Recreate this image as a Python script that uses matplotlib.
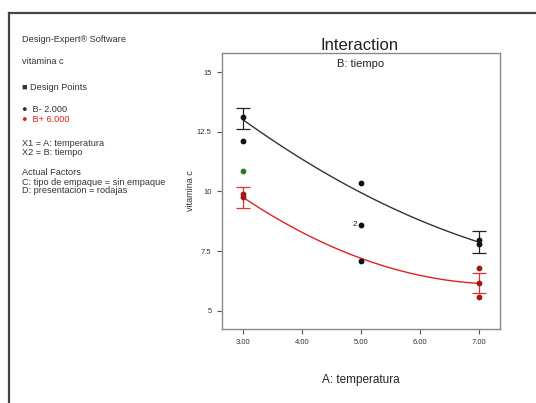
import numpy as np
import matplotlib.pyplot as plt

plt.rcParams['font.family'] = ['Liberation Sans', 'DejaVu Sans']

# model predictions (B- / B+) at the temperature levels
temp_levels = [3.0, 5.0, 7.0]
pred_low = [13.0, 9.95, 7.88]
pred_high = [9.75, 7.2, 6.15]
# least-significant-difference bars at the ends
lsd_low = [(3.0, 12.63, 13.5), (7.0, 7.42, 8.33)]
lsd_high = [(3.0, 9.29, 10.17), (7.0, 5.75, 6.6)]

# design points
pts_black_x = [3.0, 3.0, 5.0, 5.0, 7.0, 7.0, 5.0]
pts_black_y = [13.1, 12.1, 10.35, 8.6, 7.8, 7.95, 7.08]
pts_green_x = [3.0]
pts_green_y = [10.85]
pts_red_x = [3.0, 3.0, 7.0, 7.0, 7.0]
pts_red_y = [9.75, 9.9, 6.8, 6.16, 5.6]

xticks = [3, 4, 5, 6, 7]
xticklabels = ['3.00', '4.00', '5.00', '6.00', '7.00']
yticks = [5, 7.5, 10, 12.5, 15]
yticklabels = ['5', '7.5', '10', '12.5', '15']

fig = plt.figure(figsize=(5.36, 4.03), dpi=100)

# outer frame lines (top and left only)
fig.add_artist(plt.Line2D([9/536, 1], [1-13/403, 1-13/403], color='#444444', lw=1.6))
fig.add_artist(plt.Line2D([9/536, 9/536], [0, 1-13/403], color='#444444', lw=1.6))

ax = fig.add_axes([222/536, 1-329/403, 278/536, 276/403])
ax.set_xlim(2.64, 7.36)
ax.set_ylim(4.24, 15.8)
for s in ax.spines.values():
    s.set_color('#888888')
    s.set_linewidth(1.0)
ax.set_xticks(xticks)
ax.set_xticklabels(xticklabels)
ax.set_yticks(yticks)
ax.set_yticklabels(yticklabels)
ax.tick_params(labelsize=5.5, length=3.5, width=0.8, color='#555555', labelcolor='#333333', pad=4)

xs = np.linspace(3, 7, 100)
c_low = np.polyfit(temp_levels, pred_low, 2)
c_high = np.polyfit(temp_levels, pred_high, 2)
ax.plot(xs, np.polyval(c_low, xs), color='#333333', lw=1.0)
ax.plot(xs, np.polyval(c_high, xs), color='#e02020', lw=1.0)

for x, lo, hi in lsd_low:
    ax.errorbar([x], [(lo + hi) / 2], yerr=[[(hi - lo) / 2], [(hi - lo) / 2]],
                fmt='none', ecolor='#222222', elinewidth=0.9, capsize=5, capthick=0.9)
for x, lo, hi in lsd_high:
    ax.errorbar([x], [(lo + hi) / 2], yerr=[[(hi - lo) / 2], [(hi - lo) / 2]],
                fmt='none', ecolor='#e03030', elinewidth=0.9, capsize=5, capthick=0.9)

ax.scatter(pts_black_x, pts_black_y, s=10, color='#111111', zorder=3)
ax.scatter(pts_green_x, pts_green_y, s=10, color='#2a7a2a', zorder=3)
ax.scatter(pts_red_x, pts_red_y, s=10, color='#a01818', zorder=3)
ax.text(4.93, 8.6, '2', fontsize=6, ha='right', va='center', color='#222222')

ax.set_xlabel('A: temperatura', fontsize=8.5, labelpad=20, color='#222222')
ax.set_ylabel('vitamina c', fontsize=6.5, labelpad=1, color='#333333')
fig.text(360/536, 1-46/403, 'Interaction', fontsize=12, ha='center', va='center', color='#222222')
ax.text(0.5, 0.96, 'B: tiempo', transform=ax.transAxes, fontsize=8, ha='center', va='center', color='#222222')

# side notes
notes = [
    (40, 'Design-Expert® Software', '#333333'),
    (62, 'vitamina c', '#333333'),
    (87, '■ Design Points', '#333333'),
    (110, '●  B- 2.000', '#333333'),
    (120, '●  B+ 6.000', '#e02020'),
    (143, 'X1 = A: temperatura', '#333333'),
    (153, 'X2 = B: tiempo', '#333333'),
    (173, 'Actual Factors', '#333333'),
    (182, 'C: tipo de empaque = sin empaque', '#333333'),
    (191, 'D: presentacion = rodajas', '#333333'),
]
for y, s, c in notes:
    fig.text(22/536, 1-y/403, s, fontsize=6.6, color=c, va='center', ha='left')

fig.savefig('out.png', dpi=100)
